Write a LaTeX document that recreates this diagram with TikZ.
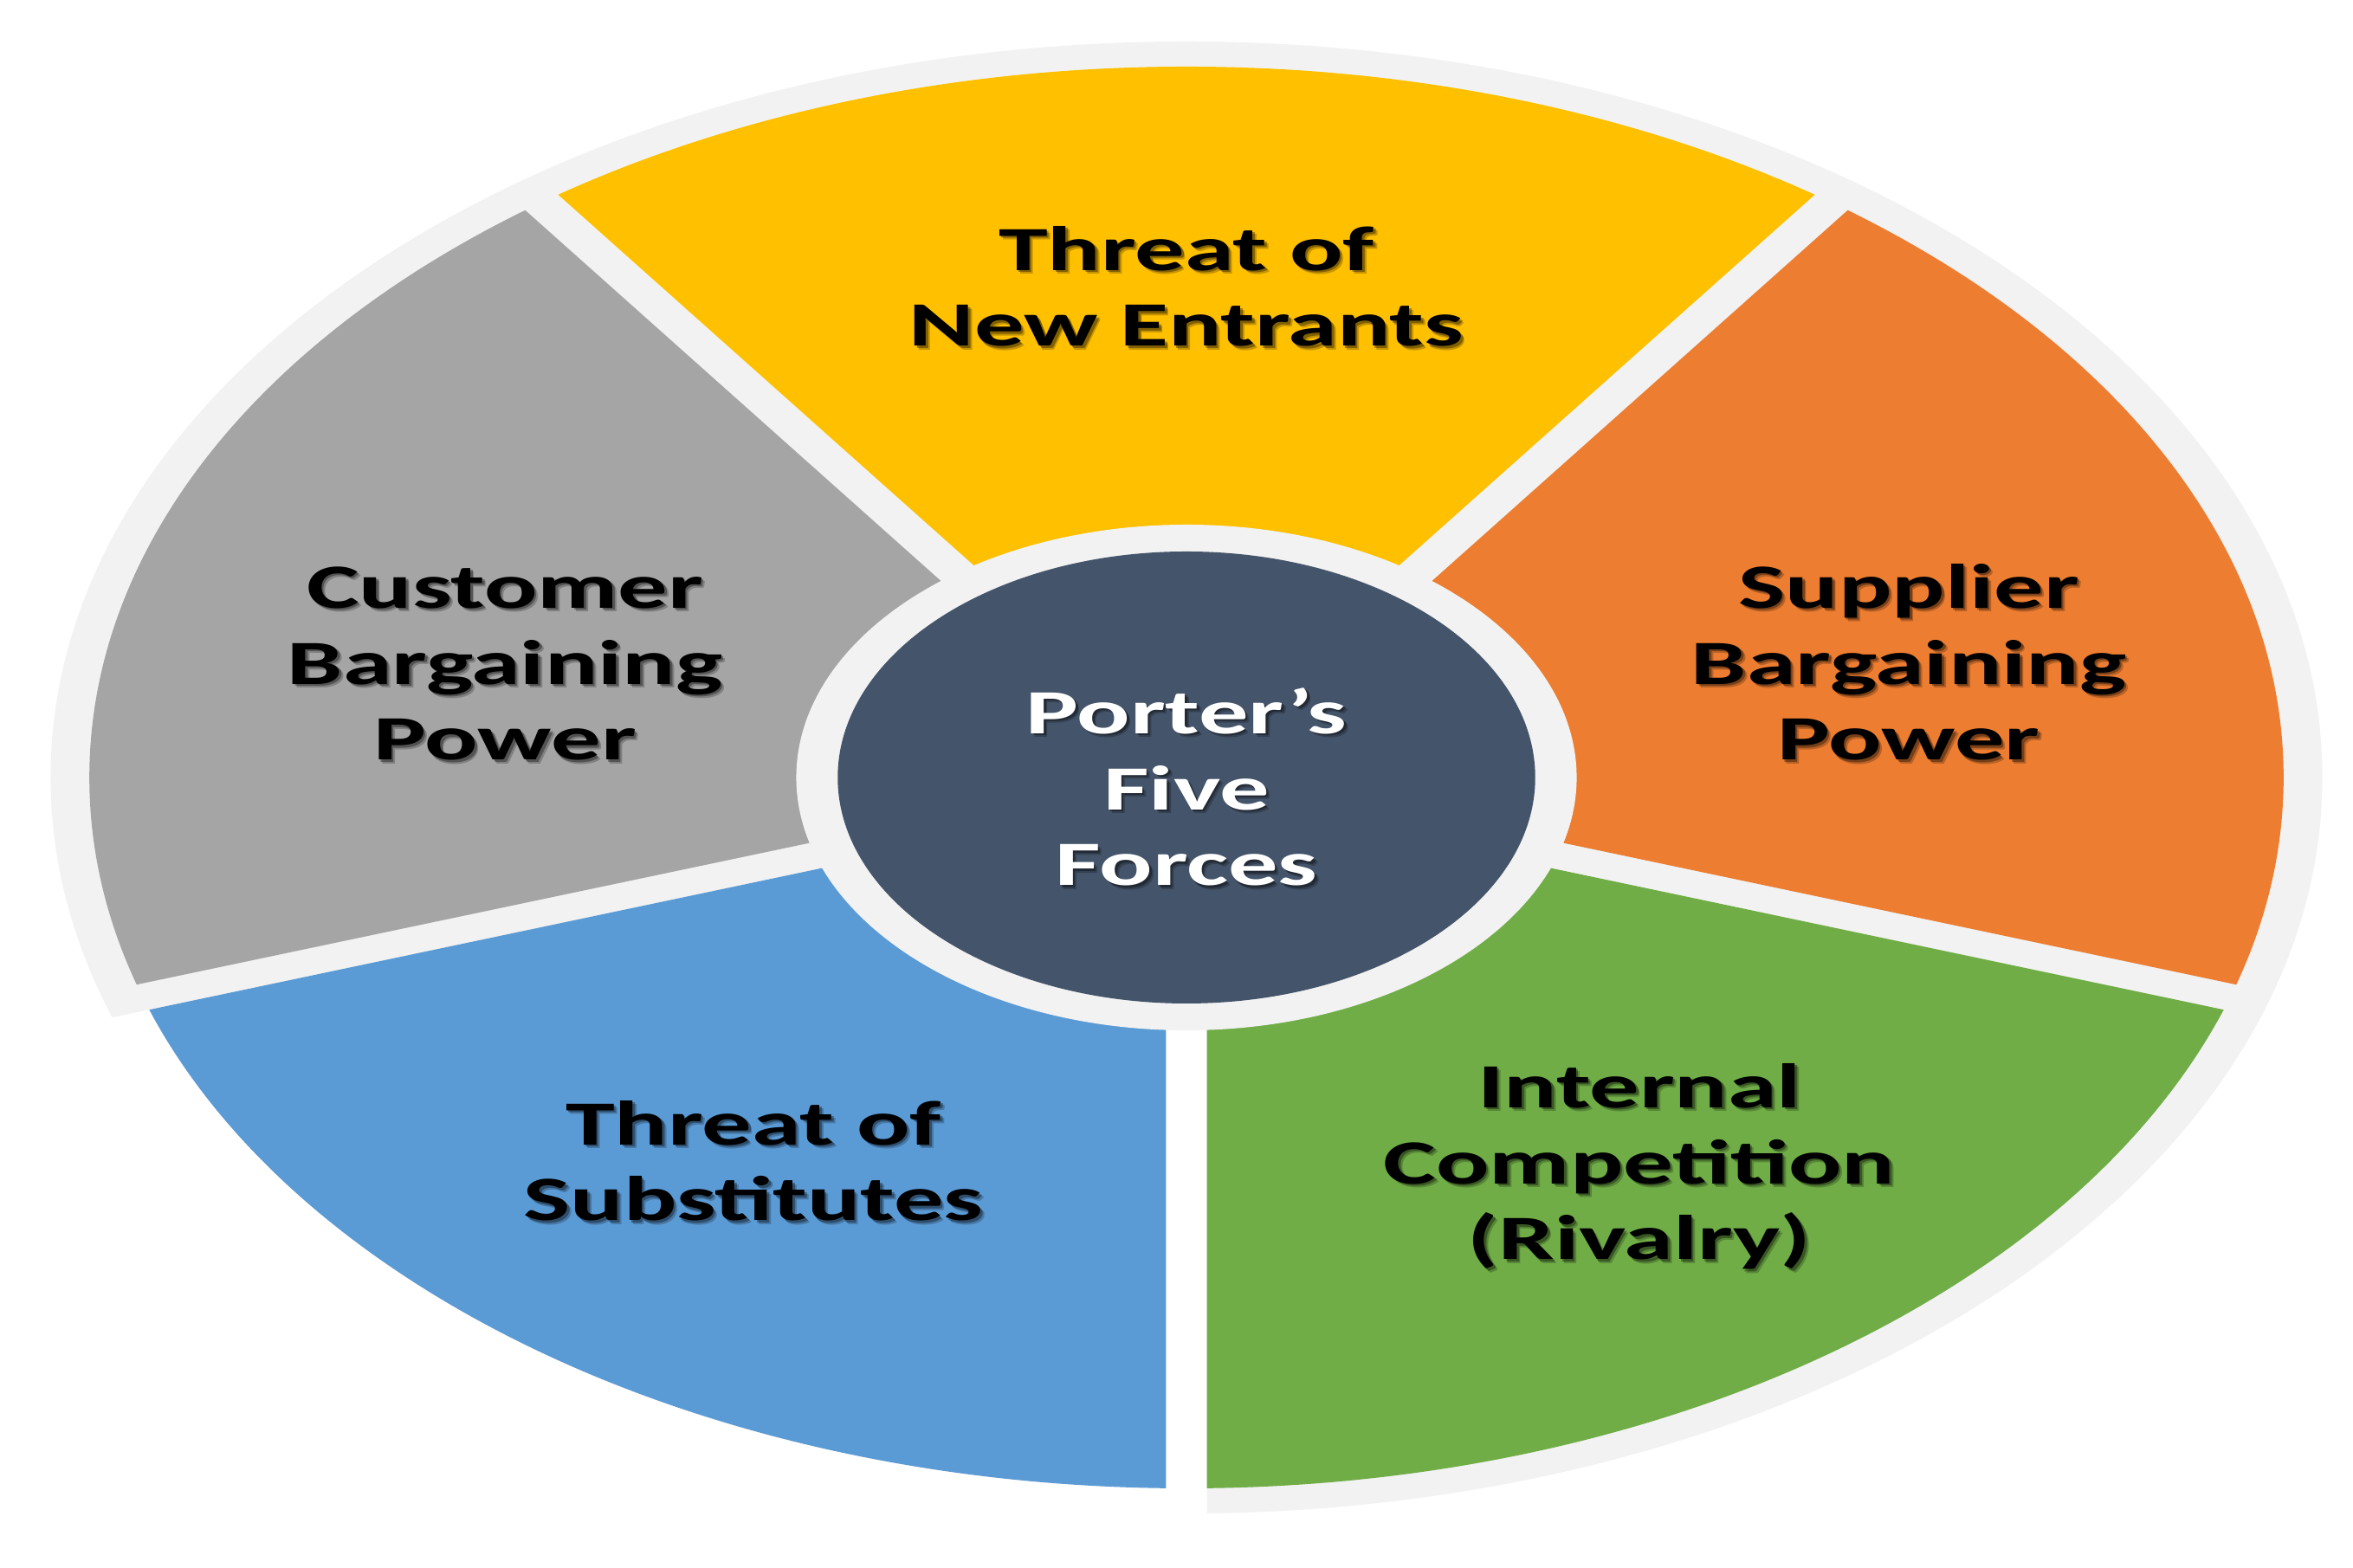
\documentclass[tikz,border=0pt]{standalone}
\usepackage{fontspec}
\setmainfont{Carlito}
\usetikzlibrary{calc}
\definecolor{ringgray}{HTML}{F2F2F2}
\definecolor{segyellow}{HTML}{FFC000}
\definecolor{segorange}{HTML}{ED7D31}
\definecolor{seggreen}{HTML}{70AD47}
\definecolor{segblue}{HTML}{5B9BD5}
\definecolor{seggray}{HTML}{A5A5A5}
\definecolor{hubdark}{HTML}{44546A}
\def\Rring{8.50}
\def\Rseg{8.21}
\def\Ri{2.92}
\def\Rc{2.61}
\def\g{0.1525}
\newcommand\wedgeseg[3]{%
  \begin{scope}
    \clip (0,0) circle (\Rseg);
    \fill[#1] ($(#2:12)+({#2+90}:\g)$) -- ({#2+90}:\g) -- ({#3-90}:\g)
      -- ($(#3:12)+({#3-90}:\g)$) -- ({(#2+#3)/2}:16) -- cycle;
  \end{scope}}
\newcommand\forcelabel[5]{% name, x, y, colour, text
  \node[lbl, text=black, opacity=.22] (#1t) at ({#2+0.028},{#3-0.045})
    {\begin{tabular}[b]{@{}c@{}}#5\end{tabular}};
  \node[lbl, text=black, opacity=.35] (#1s) at ({#2+0.016},{#3-0.025})
    {\begin{tabular}[b]{@{}c@{}}#5\end{tabular}};
  \node[lbl, text=#4] (#1) at (#2,#3)
    {\begin{tabular}[b]{@{}c@{}}#5\end{tabular}};}
\tikzset{
  lbl/.style={anchor=base, inner sep=0pt, outer sep=0pt, transform shape,
    xscale=1.02, font=\fontsize{20.7}{25}\selectfont\bfseries}
}
\begin{document}
\begin{tikzpicture}
  \fill[white] (0,0) rectangle (27.17,18.11);
  \useasboundingbox (0,0) rectangle (27.17,18.11);
  \begin{scope}[shift={(13.70,9.13)}, xscale=1.543]
    % background ring (absent round the blue segment)
    \fill[ringgray] (0,0) circle (\Rring);
    \fill[white] ($(198:12)+(288:\g)$) -- (288:\g) -- (0:\g)
      -- ($(270:12)+(0:\g)$) -- (234:16) -- cycle;
    % the five segments
    \wedgeseg{segorange}{-18}{54}
    \wedgeseg{segyellow}{54}{126}
    \wedgeseg{seggray}{126}{198}
    \wedgeseg{segblue}{198}{270}
    \wedgeseg{seggreen}{270}{342}
    % hub
    \fill[ringgray] (0,0) circle (\Ri);
    \fill[hubdark] (0,0) circle (\Rc);
    % labels
    \forcelabel{entrants}{0}{4.98}{black}{Threat of\\New Entrants}
    \forcelabel{customer}{-5.10}{0.20}{black}{Customer\\Bargaining\\Power}
    \forcelabel{supplier}{5.405}{0.20}{black}{Supplier\\Bargaining\\Power}
    \forcelabel{hub}{0}{-1.25}{white}{Porter’s\\Five\\Forces}
    \forcelabel{substitutes}{-3.24}{-5.12}{black}{Threat of\\Substitutes}
    \forcelabel{rivalry}{3.39}{-5.57}{black}{Internal\\Competition\\(Rivalry)}
  \end{scope}
\end{tikzpicture}
\end{document}
